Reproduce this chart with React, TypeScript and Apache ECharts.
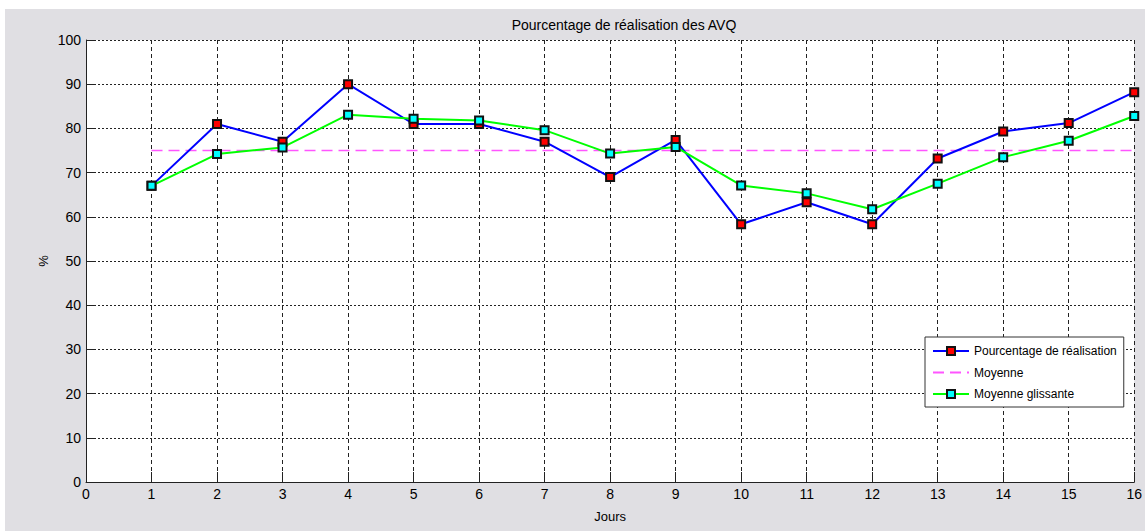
import React, { useEffect, useRef } from "react";
import * as echarts from "echarts";

const jours = [1, 2, 3, 4, 5, 6, 7, 8, 9, 10, 11, 12, 13, 14, 15, 16];
const realisation = [67, 81, 77, 90, 81, 81, 77, 69, 77.4, 58.3, 63.3, 58.3, 73.2, 79.3, 81.2, 88.2];
const glissante = [67, 74.2, 75.7, 83.1, 82.2, 81.8, 79.6, 74.3, 75.8, 67.1, 65.3, 61.7, 67.5, 73.5, 77.2, 82.8];
const moyenne = [75, 75, 75, 75, 75, 75, 75, 75, 75, 75, 75, 75, 75, 75, 75, 75];

const titleText = "Pourcentage de réalisation des AVQ";
const xName = "Jours";
const yName = "%";
const seriesNames = ["Pourcentage de réalisation", "Moyenne", "Moyenne glissante"];

const FONT = "'Liberation Sans Narrow', 'Liberation Sans', Arial, sans-serif";

export default function App() {
  const ref = useRef<HTMLDivElement>(null);
  useEffect(() => {
    if (!ref.current) return;
    const chart = echarts.init(ref.current, null, { renderer: "svg" });
    const pair = (arr: number[]) => jours.map((j, i) => [j, arr[i]]);
    chart.setOption({
      animation: false,
      backgroundColor: "transparent",
      title: {
        text: titleText,
        left: 614,
        top: 4,
        textAlign: "center",
        textStyle: { fontFamily: FONT, fontSize: 14, fontWeight: "normal", color: "#000" },
      },
      grid: {
        left: 81,
        top: 31,
        width: 1050,
        height: 442,
        show: true,
        backgroundColor: "#fff",
        borderWidth: 0,
      },
      legend: {
        orient: "vertical",
        left: 920,
        top: 328,
        padding: [8, 7, 7, 7],
        backgroundColor: "#fff",
        borderColor: "#333",
        borderWidth: 1,
        itemWidth: 36,
        itemHeight: 10,
        itemGap: 9.5,
        selectedMode: false,
        textStyle: { fontFamily: FONT, fontSize: 12, color: "#000" },
        data: [
          { name: seriesNames[0] },
          { name: seriesNames[1], itemStyle: { opacity: 0 } },
          { name: seriesNames[2] },
        ],
      },
      xAxis: {
        type: "value",
        min: 0,
        max: 16,
        interval: 1,
        name: xName,
        nameLocation: "middle",
        nameGap: 28,
        nameTextStyle: { fontFamily: FONT, fontSize: 13, color: "#000" },
        axisLine: { show: true, onZero: false, lineStyle: { color: "#222", width: 1 } },
        axisTick: { show: true, inside: true, length: 10, lineStyle: { color: "#222" } },
        axisLabel: { fontFamily: FONT, fontSize: 14, color: "#000", margin: 5 },
        splitLine: { show: true, lineStyle: { color: "#222", type: [4, 3], width: 1 } },
      },
      yAxis: {
        type: "value",
        min: 0,
        max: 100,
        interval: 10,
        name: yName,
        nameLocation: "middle",
        nameGap: 36,
        nameMoveOverlap: false,
        nameRotate: 90,
        nameTextStyle: { fontFamily: FONT, fontSize: 13, color: "#000" },
        axisLine: { show: true, lineStyle: { color: "#222", width: 1 } },
        axisTick: { show: true, inside: true, length: 10, lineStyle: { color: "#222" } },
        axisLabel: { fontFamily: FONT, fontSize: 14, color: "#000", margin: 5 },
        splitLine: { show: true, lineStyle: { color: "#222", type: [2, 2], width: 1 } },
      },
      series: [
        {
          name: seriesNames[0],
          type: "line",
          data: pair(realisation),
          symbol: "rect",
          symbolSize: 8,
          lineStyle: { color: "#0000ff", width: 2 },
          itemStyle: { color: "#ff0000", borderColor: "#111", borderWidth: 2 },
          z: 3,
        },
        {
          name: seriesNames[1],
          type: "line",
          data: pair(moyenne),
          symbol: "none",
          lineStyle: { color: "#ff55ff", width: 1.5, type: [11, 6] },
          itemStyle: { color: "#ff55ff" },
          z: 2,
        },
        {
          name: seriesNames[2],
          type: "line",
          data: pair(glissante),
          symbol: "rect",
          symbolSize: 8,
          lineStyle: { color: "#00ff00", width: 2 },
          itemStyle: { color: "#00ffff", borderColor: "#111", borderWidth: 2 },
          z: 4,
        },
      ],
    });
    return () => chart.dispose();
  }, []);
  return (
    <div style={{ position: "absolute", left: 0, top: 0, width: 1145, height: 531, background: "#fff" }}>
      <div
        ref={ref}
        style={{ position: "absolute", left: 5, top: 9, width: 1140, height: 522, background: "#e0dfe3" }}
      />
    </div>
  );
}
